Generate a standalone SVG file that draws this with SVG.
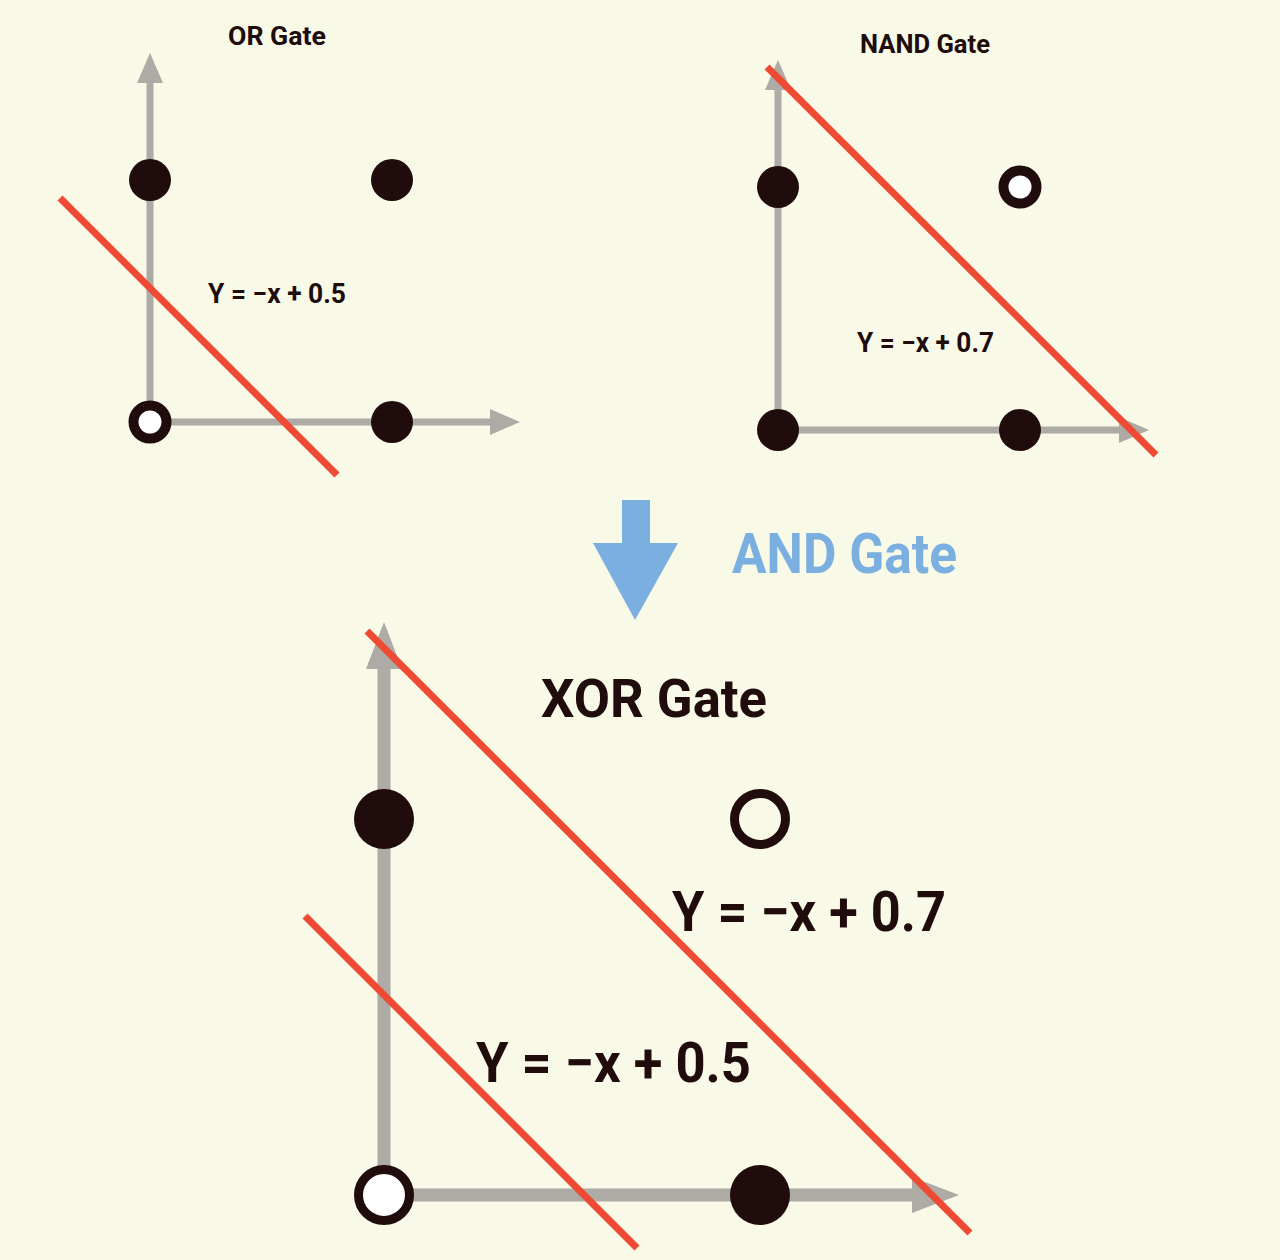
<svg xmlns="http://www.w3.org/2000/svg" width="1280" height="1260" viewBox="0 0 1280 1260">
<style>
.axis{stroke:#aeaaa5;fill:none}
.head{fill:#aeaaa5}
.dot{fill:#200c0c}
.open{fill:#ffffff;stroke:#200c0c}
.open2{fill:#f9f9e8;stroke:#200c0c}
.red{stroke:#ef4b34;stroke-width:7;fill:none}
text{font-family:Roboto,"Liberation Sans","Noto Sans CJK KR",sans-serif;font-weight:700;fill:#200c0c}
.blue{fill:#7aafe0}
</style>
<rect width="1280" height="1260" fill="#f9f9e8"/>
<g id="connectors">
  <line class="axis" x1="150" y1="422" x2="150" y2="80" stroke-width="7"/>
  <polygon class="head" points="150,53 137,83 163,83"/>
  <line class="axis" x1="150" y1="422" x2="492" y2="422" stroke-width="7"/>
  <polygon class="head" points="520,422 490,409 490,435"/>
  <line class="axis" x1="778" y1="430" x2="778" y2="88" stroke-width="7"/>
  <polygon class="head" points="778,60 765,90 791,90"/>
  <line class="axis" x1="778" y1="430" x2="1122" y2="430" stroke-width="7"/>
  <polygon class="head" points="1149,430 1119,417 1119,443"/>
  <line class="axis" x1="384" y1="1195" x2="384" y2="665" stroke-width="13"/>
  <polygon class="head" points="384,622 366,669 402,669"/>
  <line class="axis" x1="384" y1="1195" x2="915" y2="1195" stroke-width="13"/>
  <polygon class="head" points="959,1195 912,1177 912,1213"/>
  <line class="red" x1="60" y1="198" x2="337" y2="475"/>
  <line class="red" x1="767" y1="67" x2="1156" y2="455"/>
  <line class="red" x1="367" y1="631" x2="970" y2="1233"/>
  <line class="red" x1="305" y1="916" x2="637" y2="1248"/>
  <polygon class="blue" points="622,500 650,500 650,543 678,543 635,620 593,543 622,543"/>
</g>
<g id="or-gate">
  <text x="228" y="45" font-size="25" textLength="98" lengthAdjust="spacingAndGlyphs">OR Gate</text>
  <circle class="dot" cx="150" cy="180" r="21"/>
  <circle class="dot" cx="392" cy="180" r="21"/>
  <circle class="dot" cx="392" cy="422" r="21"/>
  <circle class="open" cx="150" cy="422" r="16.5" stroke-width="10"/>
  <text x="208" y="303" font-size="27" textLength="138" lengthAdjust="spacingAndGlyphs">Y = −x + 0.5</text>
</g>
<g id="nand-gate">
  <text x="860" y="53" font-size="25" textLength="130" lengthAdjust="spacingAndGlyphs">NAND Gate</text>
  <circle class="dot" cx="778" cy="187" r="21"/>
  <circle class="open" cx="1020" cy="187" r="16.5" stroke-width="10"/>
  <circle class="dot" cx="778" cy="430" r="21"/>
  <circle class="dot" cx="1020" cy="430" r="21"/>
  <text x="857" y="352" font-size="27" textLength="137" lengthAdjust="spacingAndGlyphs">Y = −x + 0.7</text>
</g>
<g id="and-gate">
  <text class="blue" x="732" y="573" font-size="55" textLength="225" lengthAdjust="spacingAndGlyphs">AND Gate</text>
</g>
<g id="xor-gate">
  <text x="541" y="717" font-size="54" textLength="226" lengthAdjust="spacingAndGlyphs">XOR Gate</text>
  <circle class="dot" cx="384" cy="819" r="30"/>
  <circle class="open2" cx="760" cy="819" r="25.5" stroke-width="9"/>
  <circle class="open" cx="384" cy="1195" r="25.5" stroke-width="9"/>
  <circle class="dot" cx="760" cy="1195" r="30"/>
  <text x="672" y="931" font-size="56" textLength="274" lengthAdjust="spacingAndGlyphs">Y = −x + 0.7</text>
  <text x="476" y="1082" font-size="56" textLength="275" lengthAdjust="spacingAndGlyphs">Y = −x + 0.5</text>
</g>
</svg>
